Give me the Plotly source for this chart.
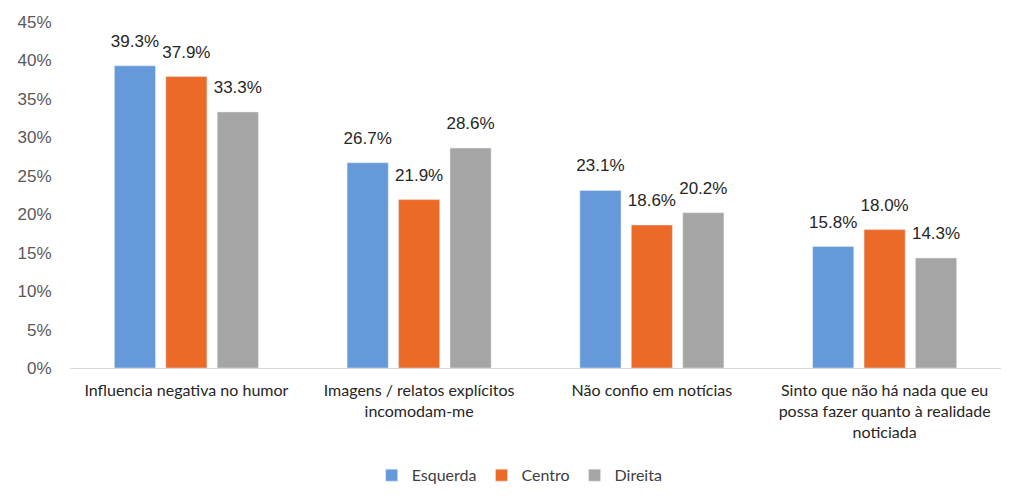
import plotly.graph_objects as go

categories = [
    "Influencia negativa no humor",
    "Imagens / relatos explícitos<br>incomodam-me",
    "Não confio em notícias",
    "Sinto que não há nada que eu<br>possa fazer quanto à realidade<br>noticiada",
]
esquerda = [0.393, 0.267, 0.231, 0.158]
centro = [0.379, 0.219, 0.186, 0.180]
direita = [0.333, 0.286, 0.202, 0.143]

series = [("Esquerda", esquerda, "#6699D9"), ("Centro", centro, "#EC6A27"), ("Direita", direita, "#A5A5A5")]

fig = go.Figure()
for name, vals, color in series:
    fig.add_trace(go.Bar(
        name=name, x=categories, y=vals, marker_color=color,
        offsetgroup=name,
    ))
for name, vals, color in series:
    fig.add_trace(go.Scatter(
        name=name, x=categories, y=vals, mode="markers+text",
        offsetgroup=name, showlegend=False, hoverinfo="skip",
        marker=dict(size=22, opacity=0),
        text=[f"{v*100:.1f}%" for v in vals], textposition="top center",
        textfont=dict(family="Liberation Sans, Arial", size=17, color="#262626"),
        cliponaxis=False,
    ))

fig.update_layout(
    width=1024, height=501,
    margin=dict(l=62, r=31, t=14, b=141),
    paper_bgcolor="white", plot_bgcolor="white",
    barmode="group", bargap=0.337, bargroupgap=0.2,
    scattermode="group", scattergap=0.337,
    showlegend=True,
    legend=dict(orientation="h", x=0.483, xanchor="center", y=-0.31, yanchor="middle",
                font=dict(family="Lato, Open Sans", size=16, color="#404040"),
                itemwidth=30, traceorder="normal"),
    xaxis=dict(showline=True, linecolor="#D9D9D9", linewidth=1, automargin=False,
               ticks="outside", ticklen=8, tickcolor="rgba(0,0,0,0)",
               tickfont=dict(family="Lato, Open Sans", size=16, color="#262626")),
    yaxis=dict(range=[0, 0.45], dtick=0.05, tickformat=".0%", showgrid=False,
               zeroline=False, showline=False, automargin=False,
               ticks="outside", ticklen=14, tickcolor="rgba(0,0,0,0)",
               tickfont=dict(family="Liberation Sans, Arial", size=17, color="#595959")),
)
fig.write_html("out.html")
